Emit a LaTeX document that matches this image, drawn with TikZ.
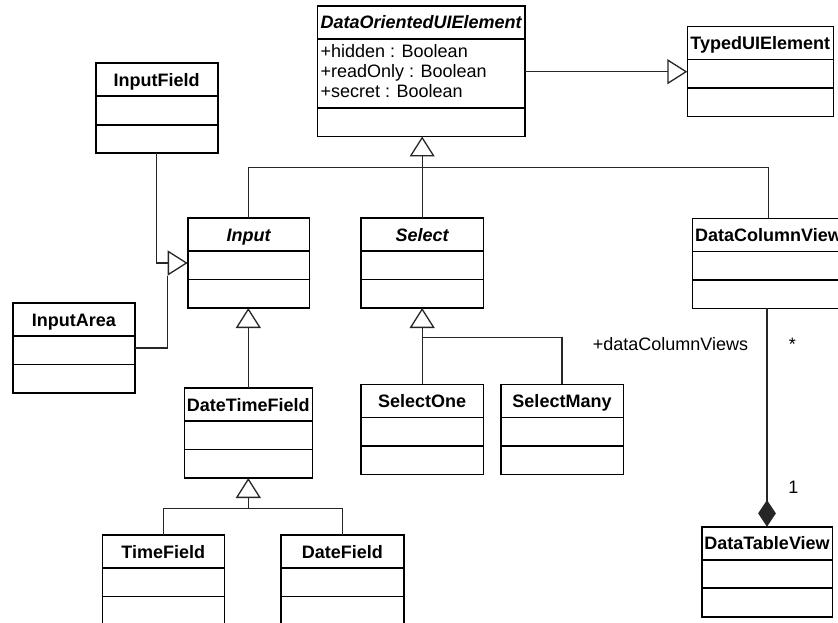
\documentclass[tikz,border=0pt]{standalone}
\usepackage{fontspec}
\setmainfont{Liberation Sans}
\usetikzlibrary{arrows.meta}

\tikzset{
  classbox/.style={draw=black, line width=1.6pt, fill=white, inner sep=0pt, outer sep=0pt},
  sepline/.style={line width=1.6pt},
  titletext/.style={font=\fontsize{18pt}{20pt}\selectfont\bfseries, inner sep=0pt, anchor=base},
  attrtext/.style={inner sep=0pt, anchor=base west},
  labeltext/.style={inner sep=0pt},
  conn/.style={line width=1.3pt, draw=black!85},
  gen/.tip={Triangle[open, length=20pt, width=25pt, fill=white]},
  comp/.tip={Diamond[length=26.7pt, width=17.7pt]},
}

% UML class box: [attribute height] name, top-left corner, width, title
\newcommand\umlclass[5][28.5]{%
  \node[classbox, minimum width=#4pt, minimum height={61.5pt+#1pt}, anchor=north west] (#2) at (#3) {};
  \node[titletext] (#2-name) at ([yshift=-23pt]#2.north) {#5};
  \draw[sepline] ([yshift=-33pt]#2.north west) -- ([yshift=-33pt]#2.north east);
  \draw[sepline] ([yshift={-33pt-#1pt}]#2.north west) -- ([yshift={-33pt-#1pt}]#2.north east);
}

\begin{document}
\begin{tikzpicture}[x=1pt, y=-1pt, font=\fontsize{18pt}{20pt}\selectfont]
  \useasboundingbox (0,0) rectangle (838,623);
  \clip (0,0) rectangle (838,623);

  % classes
  \umlclass[69]{doe}{317.3,6}{207.7}{\itshape DataOrientedUIElement}
  \umlclass{typed}{687.3,26.7}{146}{TypedUIElement}
  \umlclass{inputfield}{95.7,63.3}{122}{InputField}
  \umlclass{inputarea}{12.7,303}{122.3}{InputArea}
  \umlclass{input}{187.7,218}{121.6}{\itshape Input}
  \umlclass{select}{361,218}{122.3}{\itshape Select}
  \umlclass{dcv}{692.5,218.3}{152}{DataColumnView}
  \umlclass{dtf}{184.3,388}{128}{DateTimeField}
  \umlclass{selectone}{361,384.3}{122.3}{SelectOne}
  \umlclass{selectmany}{500.7,384.3}{122.6}{SelectMany}
  \umlclass{timefield}{102.3,535}{122}{TimeField}
  \umlclass{datefield}{281,535}{122.7}{DateField}
  \umlclass{dtv}{701.7,526.7}{130.6}{DataTableView}

  % attributes
  \node[attrtext] (doe-hidden)   at ([xshift=3pt,yshift=-51.5pt]doe.north west) {+hidden : Boolean};
  \node[attrtext] (doe-readonly) at ([xshift=3pt,yshift=-71.5pt]doe.north west) {+readOnly : Boolean};
  \node[attrtext] (doe-secret)   at ([xshift=3pt,yshift=-91.5pt]doe.north west) {+secret : Boolean};

  % bus levels of the inheritance trees
  \coordinate (mainbus) at (0,167.3);
  \coordinate (selbus)  at (0,337.7);
  \coordinate (dtfbus)  at (0,508.3);

  % generalisations
  \draw[conn, -{gen}] (doe.east |- typed.west) -- (typed.west);

  \draw[conn] (input.north) |- (dcv.north |- mainbus) -- (dcv.north);
  \draw[conn, -{gen}] (select.north) -- (select.north |- doe.south);

  \draw[conn, -{gen}] (inputfield.south) |- ([xshift=-20pt]input.west) -- (input.west);
  \draw[conn] (inputarea.east) -| ([xshift=-20pt,yshift=-12.5pt]input.west);

  \draw[conn, -{gen}] (dtf.north) -- (dtf.north |- input.south);

  \draw[conn, -{gen}] (selectone.north) -- (selectone.north |- select.south);
  \draw[conn] (selectmany.north) |- (selectone.north |- selbus);

  \draw[conn] (timefield.north) |- (datefield.north |- dtfbus) -- (datefield.north);
  \draw[conn, -{gen}] (dtf.north |- dtfbus) -- (dtf.south);

  % composition
  \draw[conn, -{comp}] (dtv.north |- dcv.south) -- (dtv.north);
  \node[labeltext, anchor=base west] (role) at (592.7,350.5) {+dataColumnViews};
  \node[labeltext, anchor=base] (multmany) at (792.3,350.5) {*};
  \node[labeltext, anchor=base] (multone) at (793.3,493.5) {1};
\end{tikzpicture}
\end{document}
